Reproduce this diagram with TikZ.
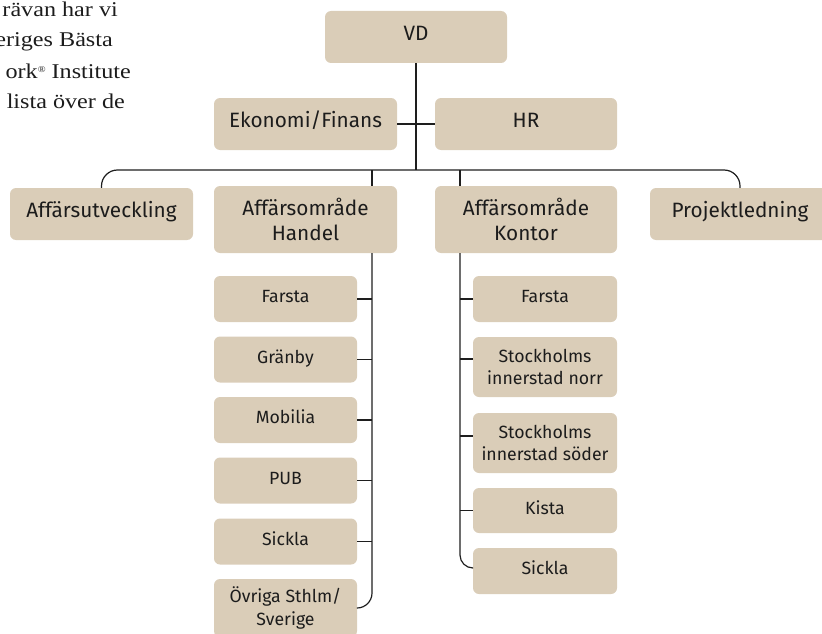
\documentclass[tikz,border=0pt]{standalone}
\usepackage{fontspec}
\setmainfont{Fira Sans}
\newfontfamily\bodyserif[FakeStretch=1.15]{Liberation Serif}
\usetikzlibrary{calc}

\definecolor{boxfill}{RGB}{218,205,184}
\definecolor{ink}{RGB}{28,28,28}
\definecolor{wire}{RGB}{30,30,30}

\newlength\probew

\begin{document}
% font sizes derived from the widths of two reference words
\settowidth\probew{\fontsize{10pt}{12pt}\selectfont Ekonomi/Finans}%
\pgfmathsetmacro\bigfs{10*153/\probew}%
\settowidth\probew{\fontsize{10pt}{12pt}\selectfont innerstad söder}%
\pgfmathsetmacro\smallfs{10*127/\probew}%
\begin{tikzpicture}[x=1pt,y=-1pt,
  bx/.style 2 args={fill=boxfill, rounded corners=6pt, inner sep=0pt,
    minimum width=#1, minimum height=#2, text=ink},
  bigtxt/.style={font=\fontsize{\bigfs pt}{25pt}\selectfont},
  smalltxt/.style={font=\fontsize{\smallfs pt}{22.5pt}\selectfont},
  oneline/.style={text height=0.78em, text depth=0pt},
  twoline/.style={align=center},
  wire/.style={draw=wire, line width=1.2pt},
  serifline/.style={font=\bodyserif\fontsize{21pt}{25pt}\selectfont, text=ink,
    inner sep=0pt, anchor=base east}]
\useasboundingbox (0,0) rectangle (822,634);

% running text of the page, cut at the left edge
\begin{scope}
  \clip (0,0) rectangle (200,130);
  \node[serifline] (s1) at (118,17) {rävan har vi};
  \node[serifline] (s2) at (113,47) {eriges Bästa};
  \node[serifline] (s3) at (131,78) {ork\raisebox{0.6ex}{\fontsize{9pt}{9pt}\selectfont ®} Institute};
  \node[serifline] (s4) at (125,108) {lista över de};
\end{scope}

% management level
\node[bx={182}{52}, bigtxt, oneline] (vd) at (416,37) {VD};
\node[bx={183}{52}, bigtxt, oneline] (eko) at (305.5,124) {Ekonomi/Finans};
\node[bx={182}{52}, bigtxt, oneline] (hr) at (526,124) {HR};

% second level
\node[bx={183}{52}, bigtxt, oneline] (utv) at (101.5,214) {Affärsutveckling};
\node[bx={183}{67}, bigtxt, twoline] (handel) at (305.5,219.5) {Affärsområde\\Handel};
\node[bx={182}{67}, bigtxt, twoline] (kontor) at (526,219.5) {Affärsområde\\Kontor};
\node[bx={180}{52}, bigtxt, oneline] (proj) at (740,214) {Projektledning};

% Affärsområde Handel units
\node[bx={143}{46}, smalltxt, oneline] (h1) at (285.5,299) {Farsta};
\node[bx={143}{46}, smalltxt, oneline] (h2) at (285.5,359.5) {Gränby};
\node[bx={143}{46}, smalltxt, oneline] (h3) at (285.5,420) {Mobilia};
\node[bx={143}{46}, smalltxt, oneline] (h4) at (285.5,480.5) {PUB};
\node[bx={143}{46}, smalltxt, oneline] (h5) at (285.5,541.5) {Sickla};
\node[bx={143}{58}, smalltxt, twoline] (h6) at (285.5,608) {Övriga Sthlm/\\Sverige};

% Affärsområde Kontor units
\node[bx={144}{46}, smalltxt, oneline] (k1) at (545,299) {Farsta};
\node[bx={144}{60}, smalltxt, twoline] (k2) at (545,367) {Stockholms\\innerstad norr};
\node[bx={144}{60}, smalltxt, twoline] (k3) at (545,443) {Stockholms\\innerstad söder};
\node[bx={144}{45}, smalltxt, oneline] (k4) at (545,510.5) {Kista};
\node[bx={144}{46}, smalltxt, oneline] (k5) at (545,571) {Sickla};

% connector anchors
\coordinate (bus) at (416,170);
\coordinate (hsp) at (372,253);
\coordinate (ksp) at (460,253);
\coordinate (k2in) at ([yshift=8pt]k2.west);
\coordinate (k3in) at ([yshift=7pt]k3.west);
\coordinate (k5in) at ([yshift=3pt]k5.west);

% staff functions and main bus
\draw[wire] (vd.south) -- (bus);
\draw[wire] (eko.east) -- (hr.west);
\draw[wire, rounded corners=16pt] (utv.north) -- (utv.north |- bus) -- (proj.north |- bus) -- (proj.north);
\draw[wire] (bus -| hsp) -- (handel.north -| hsp);
\draw[wire] (bus -| ksp) -- (kontor.north -| ksp);

% Handel spine
\draw[wire, rounded corners=15pt] (hsp) -- (hsp |- h6.east) -- (h6.east);
\foreach \n in {h1,h2,h3,h4,h5}
  \draw[wire] (\n.east) -- (\n.east -| hsp);

% Kontor spine
\draw[wire, rounded corners=13pt] (ksp) -- (ksp |- k5in) -- (k5in);
\draw[wire] (k1.west) -- (k1.west -| ksp);
\draw[wire] (k2in) -- (k2in -| ksp);
\draw[wire] (k3in) -- (k3in -| ksp);
\draw[wire] (k4.west) -- (k4.west -| ksp);
\end{tikzpicture}
\end{document}
